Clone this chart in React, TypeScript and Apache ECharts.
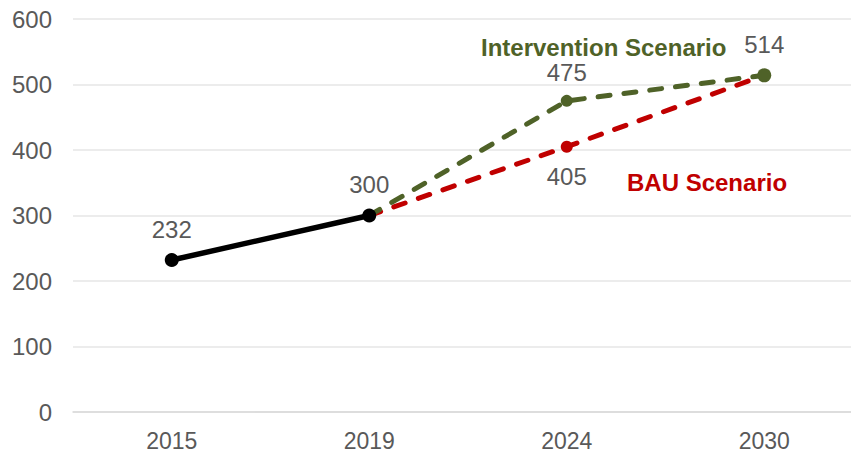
import React, { useEffect, useRef } from "react";
import * as echarts from "echarts";

const categories = ["2015", "2019", "2024", "2030"];
const historical = [232, 300, null, null];
const bauScenario = [null, 300, 405, 514];
const interventionScenario = [null, 300, 475, 514];
const yTicks = [0, 100, 200, 300, 400, 500, 600];

const GRAY = "#595959";
const RED = "#C00000";
const OLIVE = "#4F6228";

export default function App() {
  const ref = useRef<HTMLDivElement>(null);
  useEffect(() => {
    const chart = echarts.init(ref.current!, null, { renderer: "svg" });
    const font = "Liberation Sans, Arial, sans-serif";
    const lbl = (pos: string, show: boolean, distance = 12) => ({
      show,
      position: pos,
      distance,
      color: GRAY,
      fontSize: 24,
      fontFamily: font,
    });
    chart.setOption({
      animation: false,
      backgroundColor: "#ffffff",
      grid: { left: 73, right: 0, top: 19, bottom: 40, containLabel: false },
      xAxis: {
        type: "category",
        data: categories,
        boundaryGap: true,
        axisLine: { show: true, lineStyle: { color: "#d9d9d9", width: 1.5 } },
        axisTick: { show: false },
        axisLabel: { color: GRAY, fontSize: 23, fontFamily: font, margin: 17 },
      },
      yAxis: {
        type: "value",
        min: yTicks[0],
        max: yTicks[yTicks.length - 1],
        interval: 100,
        axisLine: { show: false },
        axisTick: { show: false },
        axisLabel: { color: GRAY, fontSize: 24, fontFamily: font, margin: 21 },
        splitLine: { lineStyle: { color: "#e6e6e6", width: 1.5 } },
      },
      series: [
        {
          name: "BAU",
          type: "line",
          data: bauScenario.map((v, i) => ({
            value: v,
            label: lbl("bottom", i === 2),
          })),
          symbol: "circle",
          symbolSize: 12,
          showSymbol: true,
          itemStyle: { color: RED },
          lineStyle: { color: RED, width: 5, type: [12, 14], cap: "round" },
          z: 2,
        },
        {
          name: "Intervention",
          type: "line",
          data: interventionScenario.map((v, i) => ({
            value: v,
            label: lbl("top", i === 2 || i === 3, i === 2 ? 10 : 12),
            symbolSize: i === 3 ? 14 : 12,
          })),
          symbol: "circle",
          symbolSize: 12,
          itemStyle: { color: OLIVE },
          lineStyle: { color: OLIVE, width: 5, type: [12, 14], cap: "round" },
          z: 3,
        },
        {
          name: "Historical",
          type: "line",
          data: historical.map((v, i) => ({
            value: v,
            label: lbl("top", i === 0 || i === 1),
          })),
          symbol: "circle",
          symbolSize: 14,
          itemStyle: { color: "#000000" },
          lineStyle: { color: "#000000", width: 5.5 },
          z: 4,
        },
      ],
      graphic: [
        {
          type: "text",
          left: 481,
          top: 35,
          style: {
            text: "Intervention Scenario",
            fill: OLIVE,
            font: `bold 24px ${font}`,
          },
        },
        {
          type: "text",
          left: 627,
          top: 170,
          style: {
            text: "BAU Scenario",
            fill: RED,
            font: `bold 24px ${font}`,
          },
        },
      ],
    });
    return () => chart.dispose();
  }, []);
  return (
    <div style={{ position: "fixed", left: 0, top: 0, width: 851, height: 452, overflow: "hidden", background: "#fff" }}>
      <div ref={ref} style={{ width: 863, height: 452 }} />
    </div>
  );
}
